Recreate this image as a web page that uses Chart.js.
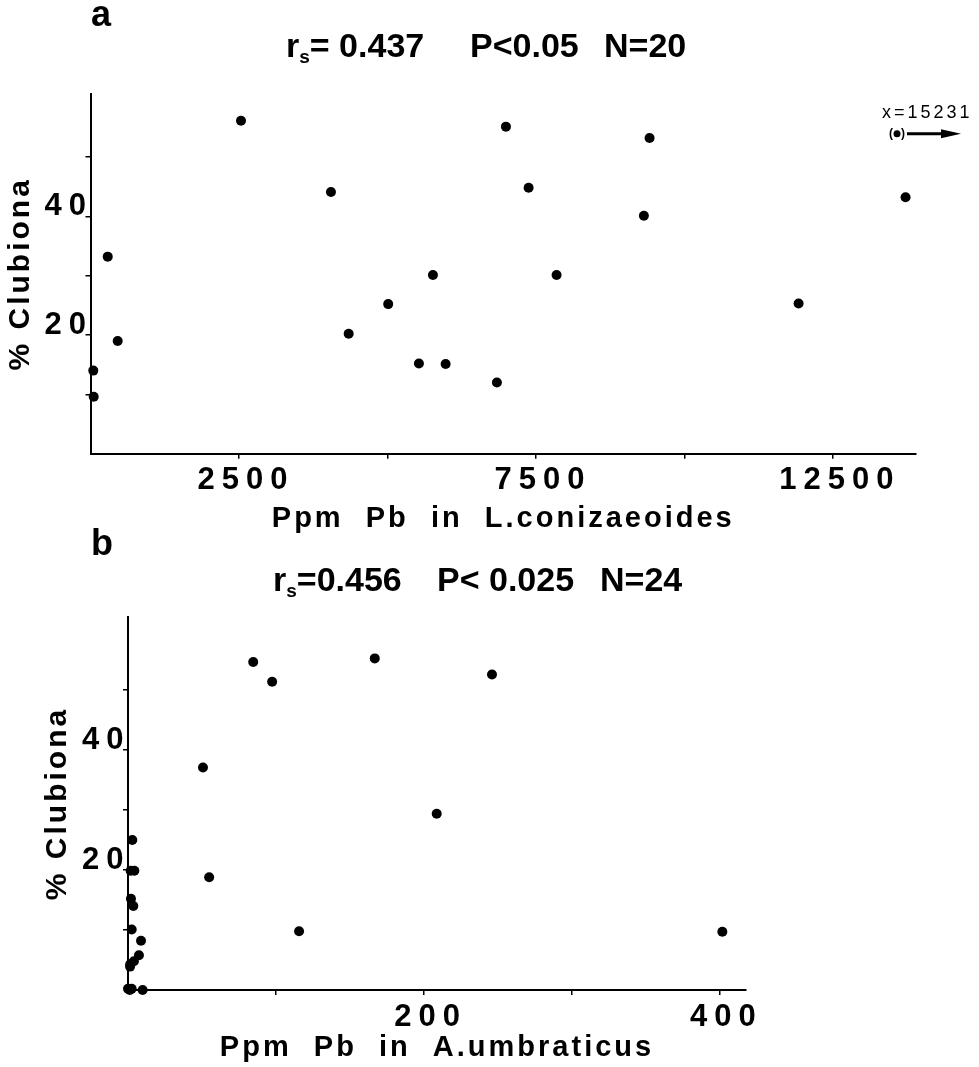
<!DOCTYPE html>
<html>
<head>
<meta charset="utf-8">
<script src="https://cdn.jsdelivr.net/npm/chart.js@4.4.1/dist/chart.umd.min.js"></script>
<style>
  body { margin: 0; background: #fff; width: 979px; height: 1067px; position: relative; overflow: hidden;
         font-family: 'Liberation Sans', Arial, sans-serif; color: #000; }
  canvas { position: absolute; left: 0; }
  #grafA { top: 0; }
  #grafB { top: 530px; }
  .lab { position: absolute; font-weight: bold; line-height: 1; white-space: pre; }
  .painel { font-size: 36px; }
  .stat { font-size: 34px; }
  .stat sub { font-size: 19px; vertical-align: -6px; }
</style>
</head>
<body>
<canvas id="grafA" width="979" height="545"></canvas>
<canvas id="grafB" width="979" height="537"></canvas>

<div class="lab painel" style="left:91px; top:-4px;">a</div>
<div class="lab stat" style="left:286px; top:28px;">r<sub>s</sub>= 0.437</div>
<div class="lab stat" style="left:470px; top:28px;">P&lt;0.05</div>
<div class="lab stat" style="left:604px; top:28px;">N=20</div>

<div class="lab painel" style="left:91px; top:525px;">b</div>
<div class="lab stat" style="left:273px; top:562px;">r<sub>s</sub>=0.456</div>
<div class="lab stat" style="left:437px; top:562px;">P&lt; 0.025</div>
<div class="lab stat" style="left:600px; top:562px;">N=24</div>

<script>
// painel a: Pb nas folhas de L. conizaeoides (o último ponto fica fora da escala)
const pbLeaves = [2534, 4049, 290, 458, 47, 54, 4347, 5013, 5766, 5530, 5980, 6843,
                  6995, 7377, 7848, 9318, 9414, 11923, 13724, 15231];
const clubA    = [56.1, 44.1, 33.2, 19.0, 14.0, 9.6, 20.2, 25.2, 30.1, 15.2, 15.1, 12.0,
                  55.1, 44.8, 30.1, 40.1, 53.2, 25.3, 43.2, 53.9];

// painel b: Pb em A. umbraticus
const pbSpiders = [84.7, 97.5, 50.7, 54.9, 115.7, 2.9, 1.8, 4.3, 2.0, 3.6, 2.5, 8.8,
                   7.4, 4.0, 1.4, 0, 2.5, 9.9, 1.2, 1.5, 166.9, 246.2, 208.8, 402];
const clubB     = [54.7, 51.4, 37.1, 18.8, 9.8, 25.0, 19.9, 19.9, 15.2, 14.0, 10.1, 8.2,
                   5.8, 4.8, 3.9, 0.2, 0.2, 0, 0, 4.3, 55.3, 52.6, 29.4, 9.7];

// eixos
const xTicksA = [2500, 5000, 7500, 10000, 12500];
const xLabelsA = [2500, 7500, 12500];
const xTicksB = [100, 200, 300, 400];
const xLabelsB = [200, 400];
const yTicks = [10, 20, 30, 40, 50];
const yLabels = [20, 40];

Chart.defaults.font.family = "'Liberation Sans', Arial, sans-serif";
Chart.defaults.font.weight = 'bold';
Chart.defaults.color = '#000';

// escala linear com espaçamento entre letras, como no original
class SpacedScale extends Chart.LinearScale {
  static id = 'spaced';
  static defaults = Chart.LinearScale.defaults;
  drawLabels(area) {
    this.ctx.save();
    this.ctx.letterSpacing = '7px';
    super.drawLabels(area);
    this.ctx.restore();
  }
  drawTitle() {
    this.ctx.save();
    this.ctx.letterSpacing = '3px';
    super.drawTitle();
    this.ctx.restore();
  }
}
Chart.register(SpacedScale);

function toPoints(xs, ys) {
  return xs.map((x, i) => ({ x: x, y: ys[i] }));
}

function eixo(max, ticks, labels, opts) {
  return {
    type: 'spaced',
    min: 0,
    max: max,
    afterBuildTicks: a => { a.ticks = ticks.map(v => ({ value: v })); },
    afterFit: opts.fit,
    ticks: {
      callback: v => labels.includes(v) ? String(v) : '',
      font: { size: 31, weight: 'bold' },
      padding: opts.padding,
      labelOffset: opts.labelOffset,
      maxRotation: 0,
      autoSkip: false
    },
    grid: { drawOnChartArea: false, drawTicks: true, tickLength: 5, color: '#000', lineWidth: 1.5 },
    border: { color: '#000', width: 2 },
    title: { display: true, text: opts.title, font: { size: opts.titleSize, weight: 'bold', lineHeight: 1 }, padding: opts.titlePadding }
  };
}

// anotação do ponto fora da escala (x=15231)
const notaFora = {
  id: 'notaFora',
  afterDatasetsDraw(chart) {
    const { ctx, chartArea, scales } = chart;
    const i = pbLeaves.findIndex(v => v > scales.x.max);
    if (i < 0) return;
    const y = scales.y.getPixelForValue(clubA[i]);
    const cx = chartArea.right - 19;
    ctx.save();
    ctx.fillStyle = '#000';
    ctx.strokeStyle = '#000';
    ctx.font = "18px 'Liberation Sans', Arial, sans-serif";
    ctx.letterSpacing = '3px';
    ctx.textBaseline = 'middle';
    ctx.textAlign = 'left';
    ctx.fillText('x=' + pbLeaves[i], cx - 15, y - 21);
    ctx.letterSpacing = '0px';
    ctx.font = "bold 12px 'Liberation Sans', Arial, sans-serif";
    ctx.textAlign = 'center';
    ctx.fillText('(', cx - 6, y);
    ctx.fillText(')', cx + 6, y);
    ctx.beginPath();
    ctx.arc(cx, y, 3.5, 0, Math.PI * 2);
    ctx.fill();
    ctx.lineWidth = 3;
    ctx.beginPath();
    ctx.moveTo(cx + 10, y);
    ctx.lineTo(cx + 48, y);
    ctx.stroke();
    ctx.beginPath();
    ctx.moveTo(cx + 44, y - 4.5);
    ctx.lineTo(cx + 64, y);
    ctx.lineTo(cx + 44, y + 4.5);
    ctx.closePath();
    ctx.fill();
    ctx.restore();
  }
};

function grafico(id, dados, scales, padding, plugins) {
  return new Chart(document.getElementById(id), {
    type: 'scatter',
    data: {
      datasets: [{
        data: dados,
        pointRadius: 5,
        pointBackgroundColor: '#000',
        pointBorderWidth: 0,
        clip: false // pontos sobre os eixos aparecem inteiros
      }]
    },
    options: {
      responsive: false,
      animation: false,
      layout: { padding: padding },
      plugins: { legend: { display: false }, tooltip: { enabled: false } },
      scales: scales
    },
    plugins: plugins
  });
}

grafico('grafA', toPoints(pbLeaves, clubA), {
  x: eixo(13900, xTicksA, xLabelsA, {
    fit: s => { s.height = 91.3; }, padding: 3, labelOffset: 7,
    title: 'Ppm  Pb  in  L.conizaeoides', titleSize: 29, titlePadding: { bottom: 12 }
  }),
  y: eixo(60.6, yTicks, yLabels, {
    fit: s => { s.width = 90.5; }, padding: -7.5, labelOffset: -10,
    title: '% Clubiona', titleSize: 30, titlePadding: { top: 6 }
  })
}, { top: 94, right: 63, bottom: 0, left: 0 }, [notaFora]);

grafico('grafB', toPoints(pbSpiders, clubB), {
  x: eixo(418, xTicksB, xLabelsB, {
    fit: s => { s.height = 77; }, padding: 4, labelOffset: 7,
    title: 'Ppm  Pb  in  A.umbraticus', titleSize: 29, titlePadding: { bottom: 5 }
  }),
  y: eixo(62.2, yTicks, yLabels, {
    fit: s => { s.width = 128; }, padding: -7.5, labelOffset: -10,
    title: '% Clubiona', titleSize: 30, titlePadding: { top: 43 }
  })
}, { top: 87, right: 233, bottom: 0, left: 0 }, []);
</script>
</body>
</html>
